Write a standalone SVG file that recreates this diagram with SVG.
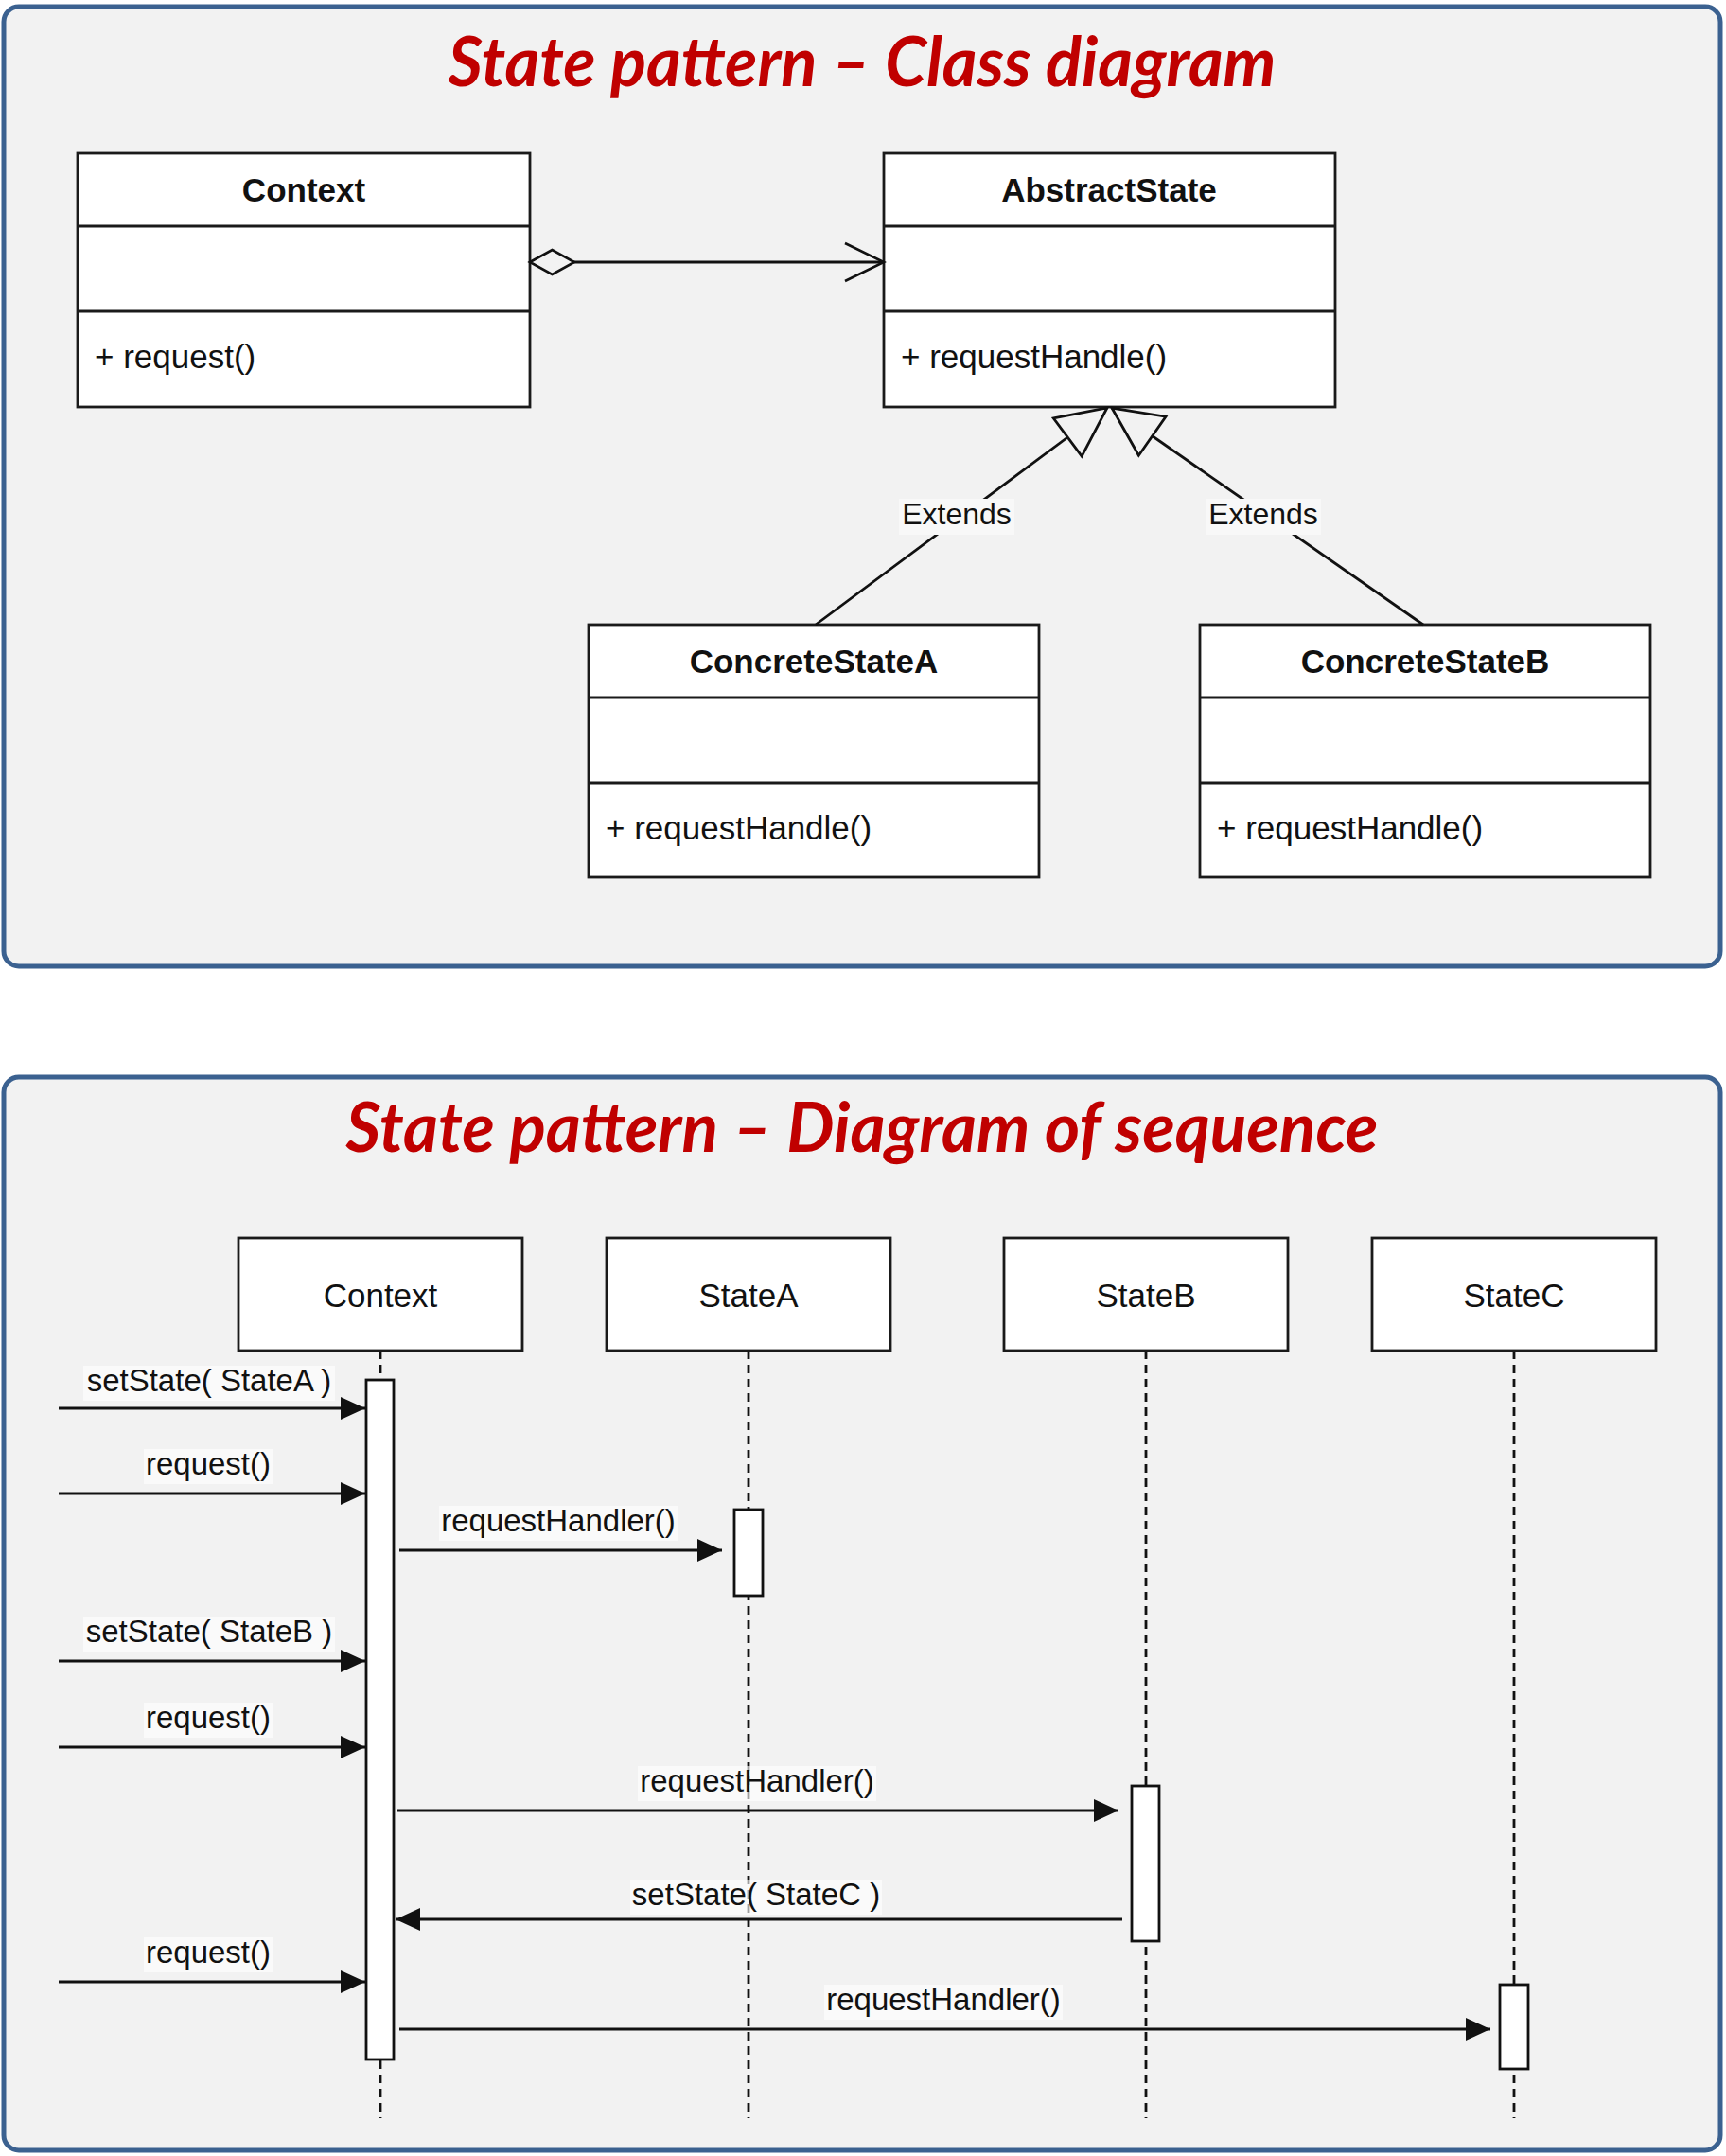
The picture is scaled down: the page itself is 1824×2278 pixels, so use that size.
<svg xmlns="http://www.w3.org/2000/svg" width="1824" height="2278" viewBox="0 0 1824 2278">
<style>
.panel{fill:#f2f2f2;stroke:#3b6190;stroke-width:5}
.title{font-family:Lato,"Open Sans",sans-serif;font-weight:bold;font-style:italic;font-size:72px;fill:#c00000;text-anchor:middle}
.box{fill:#fff;stroke:#1a1a1a;stroke-width:2.8}
.div{stroke:#1a1a1a;stroke-width:2.8}
.cname{font-family:"Liberation Sans",Arial,sans-serif;font-weight:bold;font-size:35px;fill:#111;text-anchor:middle}
.meth{font-family:"Liberation Sans",Arial,sans-serif;font-size:35px;fill:#111}
.lname{font-family:"Liberation Sans",Arial,sans-serif;font-size:35px;fill:#111;text-anchor:middle}
.msg{font-family:"Liberation Sans",Arial,sans-serif;font-size:33px;fill:#111;text-anchor:middle}
.ext{font-family:"Liberation Sans",Arial,sans-serif;font-size:32px;fill:#111;text-anchor:middle}
.lbg{fill:#ffffff;opacity:0.6}
.line{stroke:#111;stroke-width:2.8;fill:none}
.msgline{stroke:#111;stroke-width:3.2;fill:none}
.life{stroke:#111;stroke-width:2.8;stroke-dasharray:9 6;fill:none}
.bar{fill:#fff;stroke:#111;stroke-width:2.8}
</style>
<defs>
<marker id="filled" markerUnits="userSpaceOnUse" viewBox="0 -13 27 26" refX="26" refY="0" markerWidth="27" markerHeight="26" orient="auto">
<path d="M0,-12 L26,0 L0,12 Z" fill="#111"/>
</marker>
<marker id="hollowTri" markerUnits="userSpaceOnUse" viewBox="-2 -28 58 56" refX="52" refY="0" markerWidth="58" markerHeight="56" orient="auto" overflow="visible">
<path d="M0,-25 L52,0 L0,25 Z" fill="#f2f2f2" stroke="#111" stroke-width="2.8" stroke-linejoin="miter"/>
</marker>
<marker id="diamond" markerUnits="userSpaceOnUse" viewBox="-2 -15 51 30" refX="0" refY="0" markerWidth="51" markerHeight="30" orient="auto" overflow="visible">
<path d="M0,0 L23.5,-13 L47,0 L23.5,13 Z" fill="#f2f2f2" stroke="#111" stroke-width="2.6"/>
</marker>
<marker id="openArrow" markerUnits="userSpaceOnUse" viewBox="-44 -22 46 44" refX="0" refY="0" markerWidth="46" markerHeight="44" orient="auto" overflow="visible">
<path d="M-41,-20 L0,0 L-41,20" fill="none" stroke="#111" stroke-width="2.6"/>
</marker>
</defs>

<!-- Panels -->
<rect class="panel" x="4" y="7" width="1814" height="1014" rx="16" ry="16"/>
<rect class="panel" x="4" y="1138" width="1814" height="1134" rx="16" ry="16"/>

<text class="title" x="911" y="91" textLength="875" lengthAdjust="spacingAndGlyphs">State pattern – Class diagram</text>
<text class="title" x="911" y="1217" textLength="1091" lengthAdjust="spacingAndGlyphs">State pattern – Diagram of sequence</text>

<!-- Class diagram nodes -->
<g id="class-context">
<rect class="box" x="82" y="162" width="478" height="268"/>
<line class="div" x1="82" y1="239" x2="560" y2="239"/>
<line class="div" x1="82" y1="329" x2="560" y2="329"/>
<text class="cname" x="321" y="213">Context</text>
<text class="meth" x="100" y="389">+ request()</text>
</g>
<g id="class-abstractstate">
<rect class="box" x="934" y="162" width="477" height="268"/>
<line class="div" x1="934" y1="239" x2="1411" y2="239"/>
<line class="div" x1="934" y1="329" x2="1411" y2="329"/>
<text class="cname" x="1172" y="213">AbstractState</text>
<text class="meth" x="952" y="389">+ requestHandle()</text>
</g>
<g id="class-concretestatea">
<rect class="box" x="622" y="660" width="476" height="267"/>
<line class="div" x1="622" y1="737" x2="1098" y2="737"/>
<line class="div" x1="622" y1="827" x2="1098" y2="827"/>
<text class="cname" x="860" y="711">ConcreteStateA</text>
<text class="meth" x="640" y="887">+ requestHandle()</text>
</g>
<g id="class-concretestateb">
<rect class="box" x="1268" y="660" width="476" height="267"/>
<line class="div" x1="1268" y1="737" x2="1744" y2="737"/>
<line class="div" x1="1268" y1="827" x2="1744" y2="827"/>
<text class="cname" x="1506" y="711">ConcreteStateB</text>
<text class="meth" x="1286" y="887">+ requestHandle()</text>
</g>

<!-- Class diagram connectors -->
<g id="class-connectors">
<path class="line" d="M560,277 L934,277" marker-start="url(#diamond)" marker-end="url(#openArrow)"/>
<path class="line" d="M862,660 L1170,431" marker-end="url(#hollowTri)"/>
<path class="line" d="M1504,660 L1175,431" marker-end="url(#hollowTri)"/>
<rect x="950" y="527" width="122" height="38" fill="#f8f8f8"/>
<text class="ext" x="1011" y="554">Extends</text>
<rect x="1274" y="527" width="122" height="38" fill="#f8f8f8"/>
<text class="ext" x="1335" y="554">Extends</text>
</g>

<!-- Sequence diagram lifelines -->
<g id="seq-lifelines">
<line class="life" x1="402" y1="1427" x2="402" y2="2238"/>
<line class="life" x1="791" y1="1427" x2="791" y2="2238"/>
<line class="life" x1="1211" y1="1427" x2="1211" y2="2238"/>
<line class="life" x1="1600" y1="1427" x2="1600" y2="2238"/>
</g>

<g id="seq-context">
<rect class="box" x="252" y="1308" width="300" height="119"/>
<text class="lname" x="402" y="1381">Context</text>
<rect class="bar" x="387" y="1458" width="29" height="718"/>
</g>
<g id="seq-statea">
<rect class="box" x="641" y="1308" width="300" height="119"/>
<text class="lname" x="791" y="1381">StateA</text>
<rect class="bar" x="776" y="1595" width="30" height="91"/>
</g>
<g id="seq-stateb">
<rect class="box" x="1061" y="1308" width="300" height="119"/>
<text class="lname" x="1211" y="1381">StateB</text>
<rect class="bar" x="1196" y="1887" width="29" height="164"/>
</g>
<g id="seq-statec">
<rect class="box" x="1450" y="1308" width="300" height="119"/>
<text class="lname" x="1600" y="1381">StateC</text>
<rect class="bar" x="1585" y="2097" width="30" height="89"/>
</g>

<!-- Sequence messages -->
<g id="seq-messages">
<path class="msgline" d="M62,1488 L386,1488" marker-end="url(#filled)"/>
<rect class="lbg" x="88" y="1443" width="266" height="37"/>
<text class="msg" x="221" y="1470">setState( StateA )</text>

<path class="msgline" d="M62,1578 L386,1578" marker-end="url(#filled)"/>
<rect class="lbg" x="152" y="1531" width="136" height="37"/>
<text class="msg" x="220" y="1558">request()</text>

<path class="msgline" d="M422,1638 L763,1638" marker-end="url(#filled)"/>
<rect class="lbg" x="464" y="1591" width="252" height="37"/>
<text class="msg" x="590" y="1618">requestHandler()</text>

<path class="msgline" d="M62,1755 L386,1755" marker-end="url(#filled)"/>
<rect class="lbg" x="88" y="1708" width="266" height="37"/>
<text class="msg" x="221" y="1735">setState( StateB )</text>

<path class="msgline" d="M62,1846 L386,1846" marker-end="url(#filled)"/>
<rect class="lbg" x="152" y="1799" width="136" height="37"/>
<text class="msg" x="220" y="1826">request()</text>

<path class="msgline" d="M420,1913 L1182,1913" marker-end="url(#filled)"/>
<rect class="lbg" x="674" y="1866" width="252" height="37"/>
<text class="msg" x="800" y="1893">requestHandler()</text>

<path class="msgline" d="M1186,2028 L418,2028" marker-end="url(#filled)"/>
<rect class="lbg" x="666" y="1986" width="266" height="37"/>
<text class="msg" x="799" y="2013">setState( StateC )</text>

<path class="msgline" d="M62,2094 L386,2094" marker-end="url(#filled)"/>
<rect class="lbg" x="152" y="2047" width="136" height="37"/>
<text class="msg" x="220" y="2074">request()</text>

<path class="msgline" d="M422,2144 L1575,2144" marker-end="url(#filled)"/>
<rect class="lbg" x="871" y="2097" width="252" height="37"/>
<text class="msg" x="997" y="2124">requestHandler()</text>
</g>
</svg>
